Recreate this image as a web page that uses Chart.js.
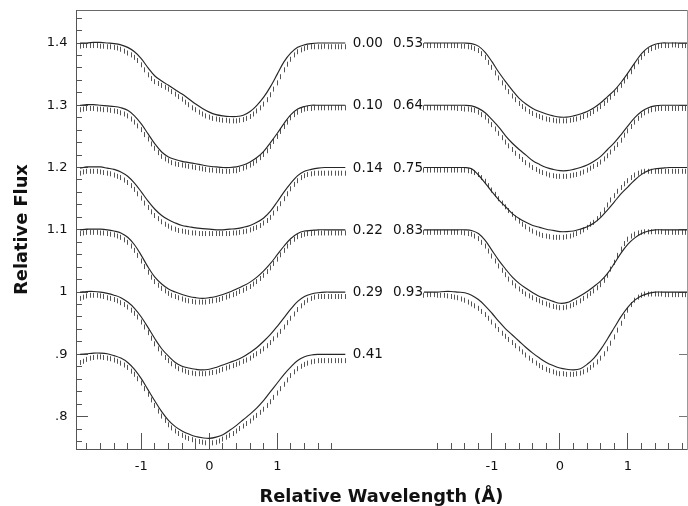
<!DOCTYPE html>
<html>
<head>
<meta charset="utf-8">
<script src="https://cdn.jsdelivr.net/npm/chart.js@4/dist/chart.umd.min.js"></script>
<style>
html,body{margin:0;padding:0;background:#fff;}
#wrap{width:688px;height:506px;}
</style>
</head>
<body>
<div id="wrap"><canvas id="c" width="688" height="506"></canvas></div>
<script>
// ---------------- data ----------------
const xModelLeft  = [-1.9,-1.8,-1.7,-1.6,-1.5,-1.4,-1.3,-1.2,-1.1,-1.0,-0.9,-0.8,-0.7,-0.6,-0.5,-0.4,-0.3,-0.2,-0.1,0.0,0.1,0.2,0.3,0.4,0.5,0.6,0.7,0.8,0.9,1.0,1.1,1.2,1.3,1.4,1.5,1.6,1.7,1.8,1.9,2.0];
const xModelRight = [-2.0,-1.9,-1.8,-1.7,-1.6,-1.5,-1.4,-1.3,-1.2,-1.1,-1.0,-0.9,-0.8,-0.7,-0.6,-0.5,-0.4,-0.3,-0.2,-0.1,0.0,0.1,0.2,0.3,0.4,0.5,0.6,0.7,0.8,0.9,1.0,1.1,1.2,1.3,1.4,1.5,1.6,1.7,1.8,1.9];
const xObsLeft  = [-1.9,-1.85,-1.8,-1.75,-1.7,-1.65,-1.6,-1.55,-1.5,-1.45,-1.4,-1.35,-1.3,-1.25,-1.2,-1.15,-1.1,-1.05,-1.0,-0.95,-0.9,-0.85,-0.8,-0.75,-0.7,-0.65,-0.6,-0.55,-0.5,-0.45,-0.4,-0.35,-0.3,-0.25,-0.2,-0.15,-0.1,-0.05,0.0,0.05,0.1,0.15,0.2,0.25,0.3,0.35,0.4,0.45,0.5,0.55,0.6,0.65,0.7,0.75,0.8,0.85,0.9,0.95,1.0,1.05,1.1,1.15,1.2,1.25,1.3,1.35,1.4,1.45,1.5,1.55,1.6,1.65,1.7,1.75,1.8,1.85,1.9,1.95,2.0];
const xObsRight = [-2.0,-1.95,-1.9,-1.85,-1.8,-1.75,-1.7,-1.65,-1.6,-1.55,-1.5,-1.45,-1.4,-1.35,-1.3,-1.25,-1.2,-1.15,-1.1,-1.05,-1.0,-0.95,-0.9,-0.85,-0.8,-0.75,-0.7,-0.65,-0.6,-0.55,-0.5,-0.45,-0.4,-0.35,-0.3,-0.25,-0.2,-0.15,-0.1,-0.05,0.0,0.05,0.1,0.15,0.2,0.25,0.3,0.35,0.4,0.45,0.5,0.55,0.6,0.65,0.7,0.75,0.8,0.85,0.9,0.95,1.0,1.05,1.1,1.15,1.2,1.25,1.3,1.35,1.4,1.45,1.5,1.55,1.6,1.65,1.7,1.75,1.8,1.85,1.9];

const phasesLeft  = ['0.00','0.10','0.14','0.22','0.29','0.41'];
const phasesRight = ['0.53','0.64','0.75','0.83','0.93'];
const continuumLeft  = [1.4,1.3,1.2,1.1,1.0,0.9];
const continuumRight = [1.4,1.3,1.2,1.1,1.0];

// model (solid) profiles
const model000 = [1.400,1.400,1.401,1.401,1.400,1.399,1.397,1.393,1.386,1.375,1.360,1.347,1.339,1.332,1.325,1.318,1.310,1.302,1.295,1.289,1.285,1.283,1.282,1.282,1.284,1.290,1.300,1.313,1.330,1.350,1.370,1.384,1.393,1.397,1.399,1.400,1.400,1.400,1.400,1.400];
const model010 = [1.300,1.301,1.301,1.300,1.299,1.298,1.296,1.292,1.283,1.270,1.254,1.238,1.225,1.217,1.213,1.210,1.208,1.206,1.204,1.202,1.201,1.200,1.200,1.201,1.204,1.209,1.216,1.226,1.240,1.255,1.271,1.285,1.294,1.298,1.300,1.300,1.300,1.300,1.300,1.300];
const model014 = [1.199,1.201,1.201,1.201,1.199,1.197,1.193,1.186,1.175,1.161,1.146,1.133,1.123,1.116,1.111,1.107,1.105,1.103,1.102,1.101,1.100,1.100,1.101,1.102,1.104,1.107,1.112,1.119,1.130,1.145,1.161,1.175,1.187,1.194,1.197,1.199,1.200,1.200,1.200,1.200];
const model022 = [1.100,1.101,1.101,1.101,1.100,1.098,1.095,1.088,1.076,1.059,1.040,1.024,1.013,1.005,1.000,0.996,0.993,0.991,0.990,0.991,0.993,0.996,1.000,1.005,1.010,1.016,1.024,1.034,1.046,1.060,1.074,1.086,1.094,1.098,1.099,1.100,1.100,1.100,1.100,1.100];
const model029 = [1.000,1.001,1.001,1.000,0.998,0.995,0.991,0.984,0.974,0.960,0.943,0.925,0.909,0.897,0.887,0.881,0.878,0.876,0.875,0.876,0.879,0.883,0.887,0.891,0.896,0.903,0.911,0.921,0.932,0.945,0.959,0.973,0.985,0.993,0.997,0.999,1.000,1.000,1.000,1.000];
const model041 = [0.900,0.901,0.902,0.902,0.901,0.898,0.894,0.887,0.876,0.861,0.843,0.825,0.808,0.794,0.784,0.777,0.772,0.768,0.766,0.765,0.767,0.771,0.778,0.786,0.795,0.804,0.814,0.826,0.840,0.854,0.868,0.880,0.890,0.896,0.899,0.900,0.900,0.900,0.900,0.900];
const model053 = [1.400,1.400,1.400,1.400,1.400,1.400,1.400,1.399,1.395,1.385,1.370,1.353,1.338,1.324,1.311,1.302,1.295,1.290,1.286,1.283,1.281,1.281,1.283,1.286,1.290,1.296,1.304,1.314,1.324,1.337,1.352,1.368,1.383,1.393,1.398,1.400,1.400,1.400,1.400,1.400];
const model064 = [1.300,1.300,1.300,1.300,1.300,1.300,1.300,1.299,1.295,1.288,1.277,1.265,1.251,1.239,1.229,1.220,1.211,1.205,1.200,1.197,1.195,1.195,1.197,1.200,1.204,1.210,1.218,1.229,1.240,1.253,1.267,1.280,1.290,1.296,1.299,1.300,1.300,1.300,1.300,1.300];
const model075 = [1.200,1.200,1.200,1.200,1.200,1.200,1.200,1.198,1.188,1.175,1.161,1.148,1.137,1.126,1.118,1.112,1.107,1.104,1.101,1.099,1.097,1.097,1.098,1.101,1.105,1.111,1.120,1.132,1.145,1.158,1.169,1.180,1.189,1.195,1.198,1.199,1.200,1.200,1.200,1.200];
const model083 = [1.100,1.100,1.100,1.100,1.100,1.100,1.100,1.099,1.094,1.083,1.067,1.051,1.037,1.024,1.014,1.006,0.999,0.993,0.989,0.985,0.982,0.983,0.988,0.994,1.001,1.009,1.018,1.030,1.046,1.063,1.077,1.087,1.094,1.098,1.100,1.100,1.100,1.100,1.100,1.100];
const model093 = [1.000,1.000,1.000,1.001,1.001,1.000,0.999,0.995,0.988,0.978,0.966,0.953,0.941,0.931,0.921,0.911,0.902,0.894,0.887,0.882,0.878,0.876,0.875,0.877,0.884,0.894,0.908,0.925,0.943,0.961,0.976,0.987,0.994,0.998,1.000,1.000,1.000,1.000,1.000,1.000];

// observed (hatched) profiles
const obs000 = [1.399,1.400,1.400,1.400,1.400,1.400,1.399,1.399,1.398,1.398,
1.397,1.396,1.394,1.391,1.388,1.385,1.381,1.376,1.369,1.361,
1.353,1.347,1.342,1.339,1.336,1.333,1.330,1.326,1.322,1.318,
1.314,1.309,1.305,1.300,1.297,1.293,1.290,1.287,1.285,1.283,
1.282,1.281,1.280,1.280,1.279,1.279,1.279,1.280,1.281,1.283,
1.286,1.290,1.295,1.300,1.306,1.313,1.321,1.330,1.340,1.350,
1.361,1.370,1.378,1.385,1.390,1.393,1.395,1.397,1.398,1.398,
1.398,1.398,1.399,1.398,1.398,1.398,1.398,1.398,1.398];
const obs010 = [1.297,1.298,1.299,1.299,1.299,1.298,1.298,1.297,1.297,1.296,
1.295,1.294,1.292,1.290,1.287,1.282,1.277,1.271,1.265,1.257,
1.250,1.242,1.235,1.228,1.222,1.218,1.215,1.212,1.210,1.209,
1.208,1.207,1.206,1.205,1.204,1.203,1.202,1.201,1.200,1.200,
1.199,1.199,1.198,1.198,1.198,1.199,1.199,1.201,1.203,1.205,
1.208,1.211,1.215,1.220,1.225,1.231,1.238,1.246,1.254,1.262,
1.270,1.277,1.284,1.289,1.293,1.296,1.298,1.299,1.299,1.300,
1.300,1.300,1.300,1.300,1.300,1.300,1.300,1.300,1.300];
const obs014 = [1.195,1.197,1.198,1.198,1.198,1.198,1.197,1.196,1.195,1.194,
1.192,1.190,1.188,1.184,1.180,1.175,1.169,1.162,1.155,1.147,
1.140,1.133,1.127,1.122,1.117,1.113,1.110,1.107,1.105,1.103,
1.102,1.101,1.100,1.099,1.099,1.098,1.098,1.098,1.098,1.098,
1.098,1.098,1.098,1.098,1.098,1.099,1.099,1.100,1.101,1.102,
1.104,1.106,1.108,1.111,1.115,1.119,1.124,1.131,1.138,1.146,
1.154,1.162,1.170,1.177,1.183,1.188,1.191,1.193,1.194,1.195,
1.195,1.195,1.195,1.195,1.195,1.195,1.195,1.195,1.195];
const obs022 = [1.098,1.099,1.100,1.100,1.100,1.100,1.099,1.099,1.098,1.097,
1.096,1.094,1.092,1.088,1.084,1.078,1.071,1.063,1.054,1.045,
1.036,1.028,1.021,1.015,1.010,1.006,1.002,0.999,0.997,0.995,
0.993,0.991,0.990,0.989,0.988,0.988,0.988,0.988,0.989,0.990,
0.991,0.992,0.994,0.996,0.998,1.000,1.002,1.005,1.007,1.010,
1.013,1.017,1.021,1.026,1.031,1.037,1.043,1.050,1.057,1.064,
1.071,1.078,1.084,1.089,1.093,1.095,1.097,1.098,1.098,1.099,
1.099,1.099,1.099,1.099,1.099,1.099,1.099,1.099,1.099];
const obs029 = [0.994,0.996,0.998,0.999,0.999,0.999,0.998,0.997,0.995,0.994,
0.992,0.990,0.987,0.984,0.980,0.975,0.970,0.964,0.956,0.948,
0.939,0.930,0.921,0.913,0.906,0.899,0.894,0.889,0.885,0.881,
0.879,0.877,0.875,0.874,0.873,0.873,0.873,0.873,0.874,0.875,
0.876,0.878,0.880,0.882,0.884,0.886,0.888,0.890,0.893,0.895,
0.898,0.902,0.905,0.909,0.913,0.918,0.923,0.929,0.935,0.941,
0.948,0.955,0.962,0.969,0.976,0.982,0.987,0.991,0.994,0.996,
0.997,0.997,0.997,0.997,0.997,0.997,0.997,0.997,0.997];
const obs041 = [0.891,0.893,0.896,0.898,0.899,0.900,0.900,0.899,0.898,0.897,
0.895,0.893,0.890,0.887,0.883,0.877,0.872,0.865,0.858,0.849,
0.840,0.831,0.822,0.813,0.805,0.798,0.791,0.786,0.781,0.777,
0.774,0.771,0.769,0.767,0.765,0.764,0.763,0.762,0.762,0.762,
0.763,0.765,0.768,0.771,0.774,0.777,0.781,0.785,0.789,0.793,
0.797,0.802,0.806,0.811,0.816,0.822,0.828,0.835,0.842,0.849,
0.856,0.863,0.870,0.876,0.881,0.885,0.888,0.890,0.892,0.893,
0.894,0.894,0.894,0.894,0.894,0.894,0.894,0.894,0.894];
const obs053 = [1.400,1.400,1.400,1.400,1.400,1.400,1.400,1.400,1.400,1.400,
1.400,1.399,1.399,1.398,1.397,1.395,1.392,1.387,1.381,1.373,
1.365,1.356,1.348,1.340,1.333,1.326,1.319,1.313,1.307,1.302,
1.298,1.294,1.291,1.288,1.286,1.284,1.282,1.281,1.280,1.279,
1.279,1.279,1.279,1.280,1.281,1.282,1.284,1.286,1.288,1.291,
1.294,1.298,1.302,1.307,1.312,1.317,1.323,1.329,1.336,1.343,
1.350,1.358,1.366,1.374,1.381,1.387,1.392,1.395,1.397,1.399,
1.400,1.400,1.400,1.401,1.401,1.400,1.400,1.400,1.400];
const obs064 = [1.300,1.300,1.300,1.300,1.300,1.300,1.300,1.300,1.300,1.300,
1.299,1.299,1.298,1.298,1.297,1.296,1.293,1.289,1.285,1.279,
1.273,1.266,1.259,1.252,1.245,1.239,1.233,1.227,1.222,1.217,
1.212,1.208,1.204,1.201,1.198,1.196,1.194,1.192,1.191,1.190,
1.190,1.190,1.190,1.191,1.192,1.193,1.195,1.197,1.200,1.203,
1.206,1.209,1.213,1.218,1.223,1.229,1.235,1.241,1.248,1.256,
1.263,1.270,1.277,1.283,1.288,1.292,1.295,1.297,1.298,1.299,
1.299,1.299,1.299,1.299,1.299,1.299,1.299,1.299,1.299];
const obs075 = [1.200,1.200,1.200,1.200,1.200,1.200,1.200,1.200,1.200,1.200,
1.200,1.200,1.200,1.199,1.198,1.196,1.193,1.188,1.182,1.175,
1.168,1.161,1.154,1.147,1.141,1.135,1.129,1.123,1.118,1.113,
1.109,1.105,1.102,1.099,1.097,1.095,1.094,1.093,1.092,1.092,
1.092,1.092,1.093,1.094,1.096,1.098,1.101,1.104,1.108,1.113,
1.116,1.122,1.129,1.136,1.144,1.152,1.159,1.166,1.172,1.178,
1.183,1.188,1.192,1.195,1.197,1.198,1.198,1.198,1.198,1.198,
1.198,1.198,1.198,1.198,1.198,1.198,1.198,1.198,1.198];
const obs083 = [1.100,1.100,1.100,1.100,1.100,1.100,1.100,1.100,1.100,1.100,
1.100,1.100,1.099,1.098,1.097,1.094,1.090,1.084,1.078,1.070,
1.062,1.054,1.046,1.039,1.032,1.025,1.019,1.014,1.009,1.005,
1.001,0.998,0.995,0.992,0.990,0.987,0.985,0.983,0.981,0.980,
0.979,0.979,0.980,0.982,0.984,0.987,0.990,0.994,0.998,1.002,
1.006,1.011,1.016,1.023,1.031,1.041,1.052,1.063,1.073,1.082,
1.089,1.094,1.097,1.099,1.100,1.101,1.101,1.101,1.101,1.101,
1.101,1.100,1.100,1.100,1.100,1.100,1.100,1.100,1.100];
const obs093 = [0.999,1.000,1.000,1.000,0.999,0.999,0.999,0.998,0.997,0.996,
0.995,0.993,0.991,0.988,0.985,0.982,0.978,0.973,0.968,0.962,
0.956,0.950,0.944,0.938,0.933,0.928,0.923,0.918,0.913,0.908,
0.903,0.898,0.894,0.890,0.886,0.883,0.880,0.878,0.876,0.874,
0.873,0.873,0.872,0.872,0.872,0.873,0.874,0.876,0.879,0.883,
0.887,0.892,0.898,0.905,0.913,0.922,0.932,0.943,0.954,0.965,
0.975,0.984,0.991,0.996,0.999,1.001,1.001,1.001,1.001,1.001,
1.001,1.000,1.000,1.000,1.000,1.000,1.000,1.000,1.000];

// axis ticks
const xTickValues  = [-1.8,-1.6,-1.4,-1.2,-1.0,-0.8,-0.6,-0.4,-0.2,0.0,0.2,0.4,0.6,0.8,1.0,1.2,1.4,1.6,1.8];
const xMajorTicks  = [-1,0,1];
const xMajorLabels = ['-1','0','1'];
const yTickValues  = [0.76,0.78,0.80,0.82,0.84,0.86,0.88,0.90,0.92,0.94,0.96,0.98,1.00,1.02,1.04,1.06,1.08,1.10,1.12,1.14,1.16,1.18,1.20,1.22,1.24,1.26,1.28,1.30,1.32,1.34,1.36,1.38,1.40,1.42,1.44];
const yMajorTicks  = [0.8,0.9,1.0,1.1,1.2,1.3,1.4];
const yMajorLabels = ['.8','.9','1','1.1','1.2','1.3','1.4'];

// ---------------- layout constants ----------------
const RIGHT_SHIFT = 5.157;   // right panel drawn on the same wavelength axis, shifted
const FONT = '"DejaVu Sans", "Liberation Sans", sans-serif';

const leftProfiles  = [model000, model010, model014, model022, model029, model041].map((m, i) => ({ model: m, obs: [obs000, obs010, obs014, obs022, obs029, obs041][i] }));
const rightProfiles = [model053, model064, model075, model083, model093].map((m, i) => ({ model: m, obs: [obs053, obs064, obs075, obs083, obs093][i] }));

function pts(xs, ys, shift) { return xs.map((v, i) => ({ x: v + shift, y: ys[i] })); }

// hatch mark used for observed points: short vertical dash hanging below the point
const hatch = document.createElement('canvas');
hatch.width = 1; hatch.height = 14;
(function () { const g = hatch.getContext('2d'); g.fillStyle = '#555555'; g.fillRect(0, 7, 1, 5); })();

const datasets = [];
function addProfiles(list, xm, xo, shift) {
  list.forEach(p => {
    datasets.push({ type: 'line', data: pts(xm, p.model, shift), borderColor: '#262626', borderWidth: 1.15,
      pointRadius: 0, tension: 0.35, fill: false, order: 1 });
    datasets.push({ type: 'line', data: pts(xo, p.obs, shift), showLine: false,
      pointStyle: hatch, pointRadius: 2, pointHoverRadius: 2, order: 2 });
  });
}
addProfiles(leftProfiles, xModelLeft, xObsLeft, 0);
addProfiles(rightProfiles, xModelRight, xObsRight, RIGHT_SHIFT);

const xTicksAll = xTickValues.concat(xTickValues.map(v => v + RIGHT_SHIFT));
const near = (a, b) => Math.abs(a - b) < 1e-6;
function xMajorIndex(v) {
  for (let i = 0; i < xMajorTicks.length; i++) {
    if (near(v, xMajorTicks[i]) || near(v, xMajorTicks[i] + RIGHT_SHIFT)) return i;
  }
  return -1;
}
function yMajorIndex(v) { return yMajorTicks.findIndex(m => near(v, m)); }
function noPad(s) { s.paddingTop = 0; s.paddingBottom = 0; s.paddingLeft = 0; s.paddingRight = 0; }

const phaseLabels = {
  id: 'phaseLabels',
  afterDatasetsDraw(chart) {
    const { ctx, scales: { x, y } } = chart;
    ctx.save();
    ctx.font = '13.5px ' + FONT;
    ctx.fillStyle = '#111';
    ctx.textBaseline = 'middle';
    ctx.textAlign = 'left';
    const xl = x.getPixelForValue(xModelLeft[xModelLeft.length - 1]) + 7.5;
    phasesLeft.forEach((t, i) => ctx.fillText(t, xl, y.getPixelForValue(continuumLeft[i]) + 0.5));
    ctx.textAlign = 'right';
    const xr = x.getPixelForValue(xModelRight[0] + RIGHT_SHIFT) - 1;
    phasesRight.forEach((t, i) => ctx.fillText(t, xr, y.getPixelForValue(continuumRight[i]) + 0.5));
    ctx.restore();
  }
};

Chart.defaults.font.family = FONT;
Chart.defaults.color = '#111';

new Chart(document.getElementById('c'), {
  type: 'line',
  data: { datasets },
  options: {
    responsive: false,
    animation: false,
    devicePixelRatio: 1,
    events: [],
    layout: { autoPadding: false, padding: { top: 10, left: 0, right: 0, bottom: 0 } },
    plugins: { legend: { display: false }, tooltip: { enabled: false } },
    scales: {
      x: {
        type: 'linear', position: 'bottom', min: -1.96, max: 7.025,
        afterBuildTicks: s => { s.ticks = xTicksAll.map(v => ({ value: v })); },
        afterFit: s => { s.height = 57; noPad(s); },
        ticks: {
          autoSkip: false, maxRotation: 0, padding: 26, color: '#111', font: { size: 13 },
          callback: v => { const i = xMajorIndex(v); return i >= 0 ? xMajorLabels[i] : ''; }
        },
        grid: {
          drawOnChartArea: false, drawTicks: true, tickLength: -16, tickColor: '#555', tickWidth: 1,
          tickBorderDash: c => (c.tick && xMajorIndex(c.tick.value) >= 0) ? [] : [7, 100]
        },
        border: { display: true, color: '#555', width: 1 },
        title: { display: true, text: 'Relative Wavelength (Å)', color: '#111',
          font: { size: 17.8, weight: 'bold', lineHeight: 1 }, padding: { top: 0, bottom: 0 } }
      },
      xTop: {
        type: 'linear', position: 'top', min: 0, max: 1,
        afterFit: s => { s.height = 0; noPad(s); },
        ticks: { display: false },
        grid: { display: false, drawTicks: false },
        border: { display: true, color: '#6a6a6a', width: 1 }
      },
      y: {
        type: 'linear', position: 'left', min: 0.748, max: 1.453,
        afterBuildTicks: s => { s.ticks = yTickValues.map(v => ({ value: v })); },
        afterFit: s => { s.width = 76; noPad(s); },
        ticks: {
          autoSkip: false, padding: 20.5, color: '#111', font: { size: 13 },
          callback: v => { const i = yMajorIndex(v); return i >= 0 ? yMajorLabels[i] : ''; }
        },
        grid: {
          drawOnChartArea: false, drawTicks: true, tickLength: -12, tickColor: '#555', tickWidth: 1,
          tickBorderDash: c => (c.tick && yMajorIndex(c.tick.value) >= 0) ? [] : [0, 6, 6, 100]
        },
        border: { display: true, color: '#555', width: 1 },
        title: { display: true, text: 'Relative Flux', color: '#111',
          font: { size: 17.8, weight: 'bold', lineHeight: 1 }, padding: { top: 13.5, bottom: 0 } }
      },
      y2: {
        type: 'linear', position: 'right', min: 0.748, max: 1.453,
        afterBuildTicks: s => { s.ticks = yMajorTicks.map(v => ({ value: v })); },
        afterFit: s => { s.width = 1; noPad(s); },
        ticks: { display: false },
        grid: { drawOnChartArea: false, drawTicks: true, tickLength: -8, tickColor: '#777', tickWidth: 1 },
        border: { display: true, color: '#999', width: 1, dash: [1, 2] }
      }
    }
  },
  plugins: [phaseLabels]
});
</script>
</body>
</html>
